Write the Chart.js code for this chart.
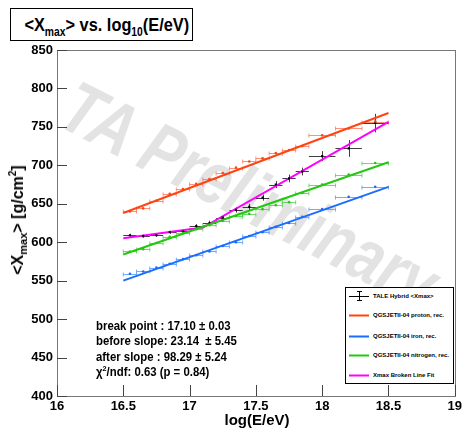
<!DOCTYPE html>
<html>
<head>
<meta charset="utf-8">
<script src="https://cdn.jsdelivr.net/npm/chart.js@4/dist/chart.umd.min.js"></script>
<style>
  body { margin: 0; background: #fff; font-family: "Liberation Sans", Arial, sans-serif; }
  #wrap { position: relative; width: 465px; height: 430px; overflow: hidden; }
  #xmaxChart { position: absolute; left: 0; top: 0; }
  .txt { position: absolute; font-weight: bold; color: #000; white-space: nowrap; }
  #watermark { left: 86px; top: 64px; font-size: 74px; font-style: italic; color: #e3e3e3;
    transform-origin: left top; transform: rotate(27deg) scaleX(0.8); }
  #title { left: 10px; top: 8px; width: 181px; height: 31px; border: 1px solid #000; background: #fff;
    font-size: 19px; line-height: 31px; text-align: center; }
  #title span { display: inline-block; transform: scaleX(0.86); }
  #title sub { font-size: 12px; vertical-align: -5px; line-height: 0; }
  #ytitle { left: 18px; top: 220px; font-size: 16px; transform: translate(-50%, -50%) rotate(-90deg); }
  #ytitle sub { font-size: 11px; vertical-align: -4px; }
  #ytitle sup { font-size: 10px; vertical-align: 7px; }
  #xtitle { left: 257px; top: 419px; font-size: 15px; transform: translate(-50%, -50%); }
  #stats { left: 96px; top: 319px; font-size: 12.5px; line-height: 15.3px; transform-origin: left top; transform: scaleX(0.91); }
  #stats sup { font-size: 8px; vertical-align: 5px; line-height: 0; }
  #legend { left: 345px; top: 287px; width: 107px; height: 95px; border: 1px solid #000; background: #fff; }
  #legend .row { position: absolute; left: 0; height: 10px; font-size: 6px; line-height: 10px; }
  #legend svg { position: absolute; left: 3px; top: 0; }
  #legend span { position: absolute; left: 27px; top: 0; }
</style>
</head>
<body>
<div id="wrap">
  <div id="watermark" class="txt">TA Preliminary</div>
  <canvas id="xmaxChart" width="465" height="430"></canvas>
  <div id="title" class="txt"><span>&lt;X<sub>max</sub>&gt; vs. log<sub>10</sub>(E/eV)</span></div>
  <div id="ytitle" class="txt">&lt;X<sub>max</sub>&gt; [g/cm<sup>2</sup>]</div>
  <div id="xtitle" class="txt">log(E/eV)</div>
  <div id="stats" class="txt">
    break point : 17.10 &plusmn; 0.03<br>
    before slope: 23.14 &nbsp;&plusmn; 5.45<br>
    after slope : 98.29 &plusmn; 5.24<br>
    &chi;<sup>2</sup>/ndf: 0.63 (p = 0.84)
  </div>
  <div id="legend" class="txt"></div>
</div>
<script>
// energy bins (log10 E/eV) and their half widths
const energyBins = [16.55, 16.65, 16.75, 16.85, 16.95, 17.05, 17.15, 17.25, 17.35, 17.45, 17.55, 17.65, 17.75, 17.85, 18.0, 18.2, 18.4];
const binHalfWidth = [0.05, 0.05, 0.05, 0.05, 0.05, 0.05, 0.05, 0.05, 0.05, 0.05, 0.05, 0.05, 0.05, 0.05, 0.1, 0.1, 0.1];

// TALE hybrid <Xmax> and its statistical errors
const taleXmax = [609, 608, 609, 613, 614, 621, 625, 632, 642, 646, 658, 675, 683, 692, 712, 722, 755];
const taleErr = [2, 2, 2, 2, 2.5, 2.5, 3, 3, 3.5, 4, 4, 4.5, 5, 5, 6.5, 11, 12];

// reconstructed MC (QGSJETII-04)
const protonXmax = [640, 644, 654, 663, 669, 676, 682, 690, 697, 705, 709, 716, 720, 725, 739, 748, 757];
const ironXmax = [559, 562, 567, 572, 578, 583, 588, 595, 600, 608, 613, 620, 625, 633, 643, 659, 672];
const nitrogenXmax = [588, 591, 599, 607, 612, 617, 622, 628, 634, 637, 643, 648, 652, 664, 675, 688, 703];

// straight-line fits to the MC and the broken line fit to data
const fitRange = [16.5, 18.5];
const protonFit = [638, 768];
const ironFit = [550, 672];
const nitrogenFit = [584, 704];
const brokenX = [16.5, 17.10, 18.5];
const brokenY = [605.1, 619.0, 756.6];

const xTickLabels = ['16', '16.5', '17', '17.5', '18', '18.5', '19'];
const yTickLabels = ['400', '450', '500', '550', '600', '650', '700', '750', '800', '850'];

const legendItems = [
  { label: 'TALE Hybrid <Xmax>', color: '#000', bar: true },
  { label: 'QGSJETII-04 proton, rec.', color: '#ff4411' },
  { label: 'QGSJETII-04 iron, rec.', color: '#1a6dff' },
  { label: 'QGSJETII-04 nitrogen, rec.', color: '#22c80e' },
  { label: 'Xmax Broken Line Fit', color: '#ff00ff' },
];

const pts = vals => vals.map((v, i) => ({ x: energyBins[i], y: v }));
const line = (xs, ys) => xs.map((x, i) => ({ x, y: ys[i] }));

// error bars + inward ticks + frame, ROOT style
const rootStyle = {
  id: 'rootStyle',
  beforeDatasetsDraw(chart) {
    const { ctx, scales: { x, y } } = chart;
    chart.data.datasets.forEach(ds => {
      if (!ds.xErr) return;
      ctx.save();
      ctx.strokeStyle = ds.errColor;
      ctx.lineWidth = 1;
      ds.data.forEach((p, j) => {
        const px = x.getPixelForValue(p.x), py = Math.round(y.getPixelForValue(p.y)) + 0.5;
        const x0 = x.getPixelForValue(p.x - ds.xErr[j]), x1 = x.getPixelForValue(p.x + ds.xErr[j]);
        ctx.beginPath();
        ctx.moveTo(x0, py); ctx.lineTo(x1, py);
        if (ds.caps) {
          ctx.moveTo(x0, py - 2); ctx.lineTo(x0, py + 2);
          ctx.moveTo(x1, py - 2); ctx.lineTo(x1, py + 2);
        }
        if (ds.yErr) {
          const y0 = y.getPixelForValue(p.y - ds.yErr[j]), y1 = y.getPixelForValue(p.y + ds.yErr[j]);
          const cx = Math.round(px) + 0.5;
          ctx.moveTo(cx, y0); ctx.lineTo(cx, y1);
        }
        ctx.stroke();
      });
      ctx.restore();
    });
  },
  afterDraw(chart) {
    const { ctx, chartArea: a, scales: { x, y } } = chart;
    ctx.save();
    ctx.strokeStyle = '#777';
    ctx.lineWidth = 1;
    ctx.strokeRect(Math.round(a.left) + 0.5, Math.round(a.top) + 0.5, Math.round(a.width), Math.round(a.height));
    ctx.strokeStyle = '#444';
    ctx.beginPath();
    x.ticks.forEach(t => {
      const px = Math.round(x.getPixelForValue(t.value)) + 0.5;
      ctx.moveTo(px, a.bottom); ctx.lineTo(px, a.bottom - 11);
    });
    y.ticks.forEach(t => {
      const py = Math.round(y.getPixelForValue(t.value)) + 0.5;
      ctx.moveTo(a.left, py); ctx.lineTo(a.left + 10, py);
    });
    ctx.stroke();
    ctx.restore();
  }
};

const tickFont = { family: '"Liberation Sans", Arial, sans-serif', size: 13, weight: 'bold' };

new Chart(document.getElementById('xmaxChart'), {
  type: 'scatter',
  data: {
    datasets: [
      { label: 'proton MC', data: pts(protonXmax), xErr: binHalfWidth, caps: true, errColor: 'rgba(255,110,80,0.75)',
        pointRadius: 1.3, pointBackgroundColor: '#ff4411', borderWidth: 0 },
      { label: 'iron MC', data: pts(ironXmax), xErr: binHalfWidth, caps: true, errColor: 'rgba(80,150,255,0.8)',
        pointRadius: 1.3, pointBackgroundColor: '#1a6dff', borderWidth: 0 },
      { label: 'nitrogen MC', data: pts(nitrogenXmax), xErr: binHalfWidth, caps: true, errColor: 'rgba(60,210,60,0.75)',
        pointRadius: 1.3, pointBackgroundColor: '#22c80e', borderWidth: 0 },
      { type: 'line', label: 'proton fit', data: line(fitRange, protonFit), borderColor: '#ff4411', borderWidth: 2, pointRadius: 0 },
      { type: 'line', label: 'iron fit', data: line(fitRange, ironFit), borderColor: '#1a6dff', borderWidth: 2, pointRadius: 0 },
      { type: 'line', label: 'nitrogen fit', data: line(fitRange, nitrogenFit), borderColor: '#22c80e', borderWidth: 2, pointRadius: 0 },
      { label: 'TALE Hybrid', data: pts(taleXmax), xErr: binHalfWidth, yErr: taleErr, errColor: 'rgba(0,0,0,0.75)',
        pointStyle: 'rect', pointRadius: 1.5, pointBackgroundColor: '#000', borderWidth: 0 },
      { type: 'line', label: 'broken line fit', data: line(brokenX, brokenY), borderColor: '#ff00ff', borderWidth: 2, pointRadius: 0 },
    ]
  },
  options: {
    responsive: false,
    animation: false,
    layout: { padding: { left: 0, top: 50, right: 7, bottom: 0 } },
    plugins: { legend: { display: false }, tooltip: { enabled: false } },
    scales: {
      x: {
        type: 'linear', min: 16, max: 19,
        grid: { display: false, drawTicks: false }, border: { display: false },
        ticks: { stepSize: 0.5, padding: 3, color: '#000', font: tickFont, maxRotation: 0,
          callback: (v, i) => xTickLabels[i] },
        afterFit: s => { s.height = 34; }
      },
      y: {
        type: 'linear', min: 400, max: 850,
        grid: { display: false, drawTicks: false }, border: { display: false },
        ticks: { stepSize: 50, padding: 4, color: '#000', font: tickFont,
          callback: (v, i) => yTickLabels[i] },
        afterFit: s => { s.width = 57; }
      }
    }
  },
  plugins: [rootStyle]
});

// legend entries
const legendBox = document.getElementById('legend');
const rowTops = [3, 22, 43, 62, 82];
legendItems.forEach((it, i) => {
  const row = document.createElement('div');
  row.className = 'row';
  row.style.top = rowTops[i] + 'px';
  row.style.width = '105px';
  const sym = it.bar
    ? `<svg width="20" height="10"><path d="M0 5.5H20M10.5 0V10M8 0.5H13M8 9.5H13" stroke="#000" stroke-width="1"/></svg>`
    : `<svg width="20" height="10"><path d="M0 5.5H20" stroke="${it.color}" stroke-width="2"/></svg>`;
  row.innerHTML = sym + `<span></span>`;
  row.querySelector('span').textContent = it.label;
  legendBox.appendChild(row);
});
</script>
</body>
</html>
